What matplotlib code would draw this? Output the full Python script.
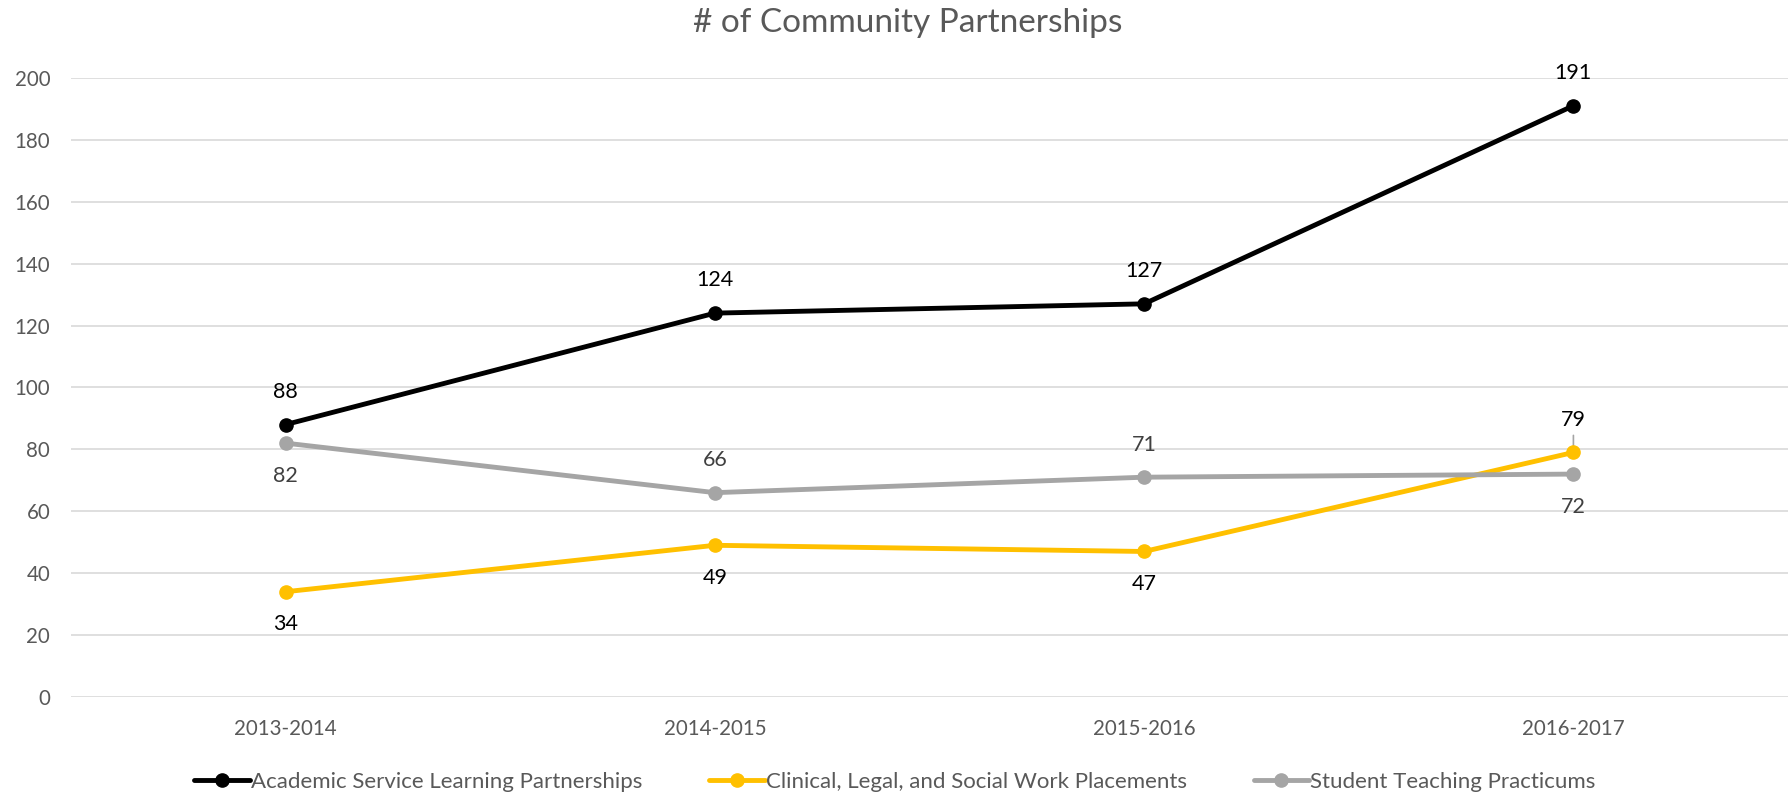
import matplotlib
matplotlib.use("Agg")
import matplotlib.pyplot as plt

plt.rcParams['font.family'] = ['Lato', 'DejaVu Sans']

years = ["2013-2014", "2014-2015", "2015-2016", "2016-2017"]
academic = [88, 124, 127, 191]
clinical = [34, 49, 47, 79]
teaching = [82, 66, 71, 72]

series_names = ["Academic Service Learning Partnerships",
                "Clinical, Legal, and Social Work Placements",
                "Student Teaching Practicums"]
yticks = [0, 20, 40, 60, 80, 100, 120, 140, 160, 180, 200]

# label placement per point: +1 above, -1 below
academic_pos = [1, 1, 1, 1]
clinical_pos = [-1, -1, -1, 1]
teaching_pos = [-1, 1, 1, -1]

fig = plt.figure(figsize=(17.9, 7.96), dpi=100)
ax = fig.add_axes([0.0397, 0.1244, 0.9592, 0.7778])

x = list(range(len(years)))
grey_txt = "#595959"

styles = [
    (academic, "#000000", academic_pos, "#000000"),
    (clinical, "#FFC000", clinical_pos, "#000000"),
    (teaching, "#A5A5A5", teaching_pos, "#404040"),
]

for (vals, col, pos, tcol), name in zip(styles, series_names):
    ax.plot(x, vals, color=col, lw=3.5, marker="o", ms=9.5,
            solid_capstyle="round", label=name, zorder=3)
    for xi, v, p in zip(x, vals, pos):
        ax.annotate(str(v), (xi, v), xytext=(0, 23.5 * p), textcoords="offset points",
                    ha="center", va="center", fontsize=15.5, color=tcol, zorder=4)

# leader line for the 79 label
ax.annotate("", (x[3], clinical[3]), xytext=(x[3], clinical[3] + 5.5),
            arrowprops=dict(arrowstyle="-", color="#A5A5A5", lw=1.2, shrinkA=0, shrinkB=0),
            zorder=2)

ax.set_xlim(-0.5, len(years) - 0.5)
ax.set_ylim(0, 200)
ax.set_yticks(yticks)
ax.set_xticks(x)
ax.set_xticklabels(years)
ax.grid(axis="y", color="#D9D9D9", lw=1.2)
ax.set_axisbelow(True)
for s in ax.spines.values():
    s.set_visible(False)
ax.tick_params(length=0, labelsize=14.8, labelcolor=grey_txt)
ax.tick_params(axis="x", pad=16)
ax.tick_params(axis="y", pad=15)

fig.suptitle("# of Community Partnerships", x=0.507, y=0.99, fontsize=24, color=grey_txt)

leg = fig.legend(loc="lower center", bbox_to_anchor=(0.5, -0.02), ncol=3, frameon=False,
                 fontsize=16, handlelength=2.5, handletextpad=0.05, columnspacing=3.0)
for t in leg.get_texts():
    t.set_color(grey_txt)

fig.savefig("out.png", dpi=100)
